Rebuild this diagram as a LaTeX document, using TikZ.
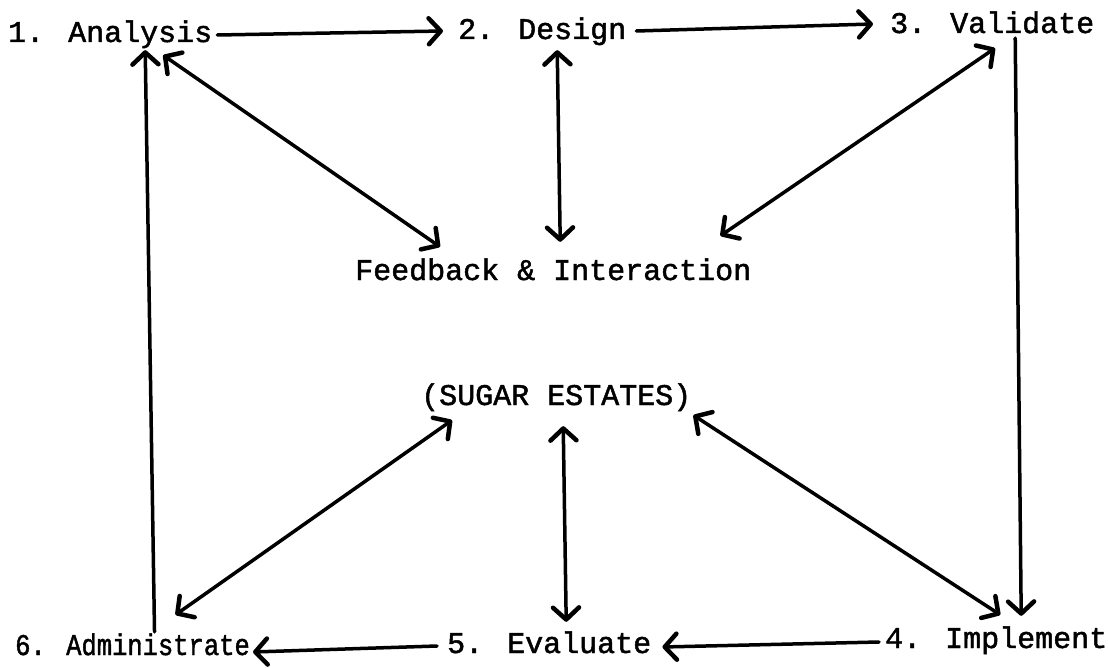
\documentclass[tikz,border=0pt]{standalone}
\usepackage{fontspec}
\setmainfont[FakeBold=1.6]{Liberation Mono}
\usetikzlibrary{arrows.meta}
\begin{document}
\begin{tikzpicture}[x=1pt,y=-1pt,
  lbl/.style={anchor=base west, inner sep=0pt, text height=20pt, text depth=6pt, font=\fontsize{30}{36}\selectfont},
  tip/.tip={Straight Barb[length=12pt,width=26pt,line width=4.5pt,round]},
  arr/.style={line width=3.5pt, line cap=round, -tip},
  darr/.style={line width=3.5pt, line cap=round, tip-tip}]
\useasboundingbox (0,0) rectangle (1108,668);
\node[lbl] (an) at (8,42) {1. Analysis};
\node[lbl] (de) at (458,39) {2. Design};
\node[lbl] (va) at (890,33) {3. Validate};
\node[lbl] (fb) at (355,280) {Feedback \& Interaction};
\node[lbl] (su) at (421,405) {(SUGAR ESTATES)};
\node[lbl] (ad) at (15,655) {\scalebox{0.85}[1]{6. Administrate}};
\node[lbl] (ev) at (447,653) {5. Evaluate};
\node[lbl] (im) at (885,648) {4. Implement};
% cycle
\draw[arr] ([shift={(5,0)}]an.east) -- ([shift={(-15,-1)}]de.west);
\draw[arr] ([shift={(10,-1)}]de.east) -- ([shift={(-17,-2)}]va.west);
\draw[arr] ([shift={(23,-1)}]va.south) -- ([shift={(25,-12)}]im.north);
\draw[arr] ([shift={(-6,1)}]im.west) -- ([shift={(11,1)}]ev.east);
\draw[arr] ([shift={(-10,0)}]ev.west) -- ([shift={(3,4)}]ad.east);
\draw[arr] ([shift={(22,-3)}]ad.north) -- ([shift={(35,2)}]an.south);
% feedback
\draw[darr] ([shift={(53,7)}]an.south) -- ([shift={(85,-13)}]fb.north west);
\draw[darr] ([shift={(15,5)}]de.south) -- ([shift={(7,-18)}]fb.north);
\draw[darr] ([shift={(105,9)}]va.south west) -- ([shift={(-31,-24)}]fb.north east);
% sugar estates
\draw[darr] ([shift={(31,9)}]su.south west) -- ([shift={(43,-20)}]ad.north);
\draw[darr] ([shift={(7,15)}]su.south) -- ([shift={(17,-11)}]ev.north);
\draw[darr] ([shift={(2,4)}]su.south east) -- ([shift={(4,-13)}]im.north);
\end{tikzpicture}
\end{document}
